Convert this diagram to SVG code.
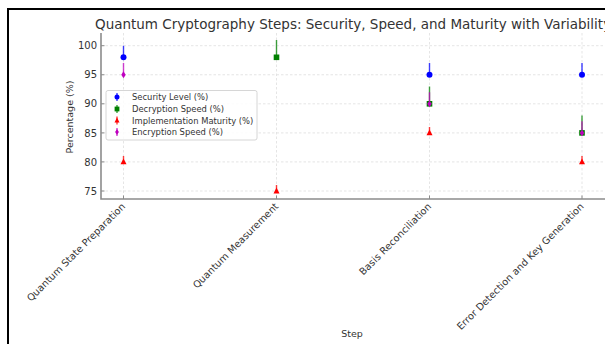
<svg xmlns="http://www.w3.org/2000/svg" width="605" height="344" viewBox="0 0 605 344">
<style>
text{font-family:"DejaVu Sans","Liberation Sans",sans-serif;fill:#333}
.grid{stroke:#dedede;stroke-width:0.8;stroke-dasharray:2.5,2;fill:none}
.spine{stroke:#8c8c8c;stroke-width:1.6;fill:none}
.tick{stroke:#8c8c8c;stroke-width:1;fill:none}
.yl{font-size:10px;text-anchor:end}
.xl{font-size:9.8px;text-anchor:end}
.lg{font-size:8.4px}
.eb{stroke-width:1.4;opacity:0.75}
</style>
<defs>
<circle id="mc" r="3" fill="#0000ff"/>
<rect id="ms" x="-2.8" y="-2.8" width="5.6" height="5.6" fill="#008000"/>
<path id="mt" d="M0,-3.4 L3,2.4 L-3,2.4 Z" fill="#ff0000"/>
<path id="md" d="M0,-3.4 L2.2,0 L0,3.4 L-2.2,0 Z" fill="#bf00bf"/>
<circle id="lc" r="2.5" fill="#0000ff"/>
<rect id="ls" x="-2.4" y="-2.4" width="4.8" height="4.8" fill="#008000"/>
<path id="lt" d="M0,-2.9 L2.5,2 L-2.5,2 Z" fill="#ff0000"/>
<path id="ld" d="M0,-2.9 L1.9,0 L0,2.9 L-1.9,0 Z" fill="#bf00bf"/>
</defs>
<rect width="605" height="344" fill="#fff"/>
<path d="M8,345 V9 H606" fill="none" stroke="#000" stroke-width="2"/>
<text x="95" y="29" font-size="13.5px">Quantum Cryptography Steps: Security, Speed, and Maturity with Variability</text>
<g id="grid">
<path class="grid" d="M123.5,33V199M276.5,33V199M429.5,33V199M582,33V199"/>
<path class="grid" d="M101,45.7H605M101,74.75H605M101,103.8H605M101,132.9H605M101,161.9H605M101,191H605"/>
</g>
<g id="axes">
<path class="spine" d="M101,33V199.5M100.2,199H605"/>
<path class="tick" d="M101,45.7h3.5M101,74.75h3.5M101,103.8h3.5M101,132.9h3.5M101,161.9h3.5M101,191h3.5M123.5,199v-3.5M276.5,199v-3.5M429.5,199v-3.5M582,199v-3.5"/>
<text class="yl" x="97" y="49.3">100</text>
<text class="yl" x="97" y="78.3">95</text>
<text class="yl" x="97" y="107.4">90</text>
<text class="yl" x="97" y="136.5">85</text>
<text class="yl" x="97" y="165.5">80</text>
<text class="yl" x="97" y="194.6">75</text>
<text x="73" y="117" font-size="9.5px" text-anchor="middle" transform="rotate(-90 73 117)">Percentage (%)</text>
<text class="xl" transform="translate(126,207) rotate(-45)">Quantum State Preparation</text>
<text class="xl" transform="translate(279,207) rotate(-45)">Quantum Measurement</text>
<text class="xl" transform="translate(432,207) rotate(-45)">Basis Reconciliation</text>
<text class="xl" transform="translate(584.5,207) rotate(-45)">Error Detection and Key Generation</text>
<text x="352" y="337" font-size="9.5px" text-anchor="middle">Step</text>
</g>
<g id="connectors">
<path class="eb" stroke="#0000ff" d="M123.5,57.3V45.7M429.5,74.75V63.1M582,74.75V63.1"/>
<path class="eb" stroke="#008000" d="M276.5,57.3V39.9M429.5,103.8V86.4M582,132.9V115.4"/>
<path class="eb" stroke="#ff0000" d="M123.5,161.9V156.1M276.5,191V185.1M429.5,132.9V127M582,161.9V156.1"/>
<path class="eb" stroke="#bf00bf" d="M123.5,74.75V63.1M429.5,103.8V92.2M582,132.9V121.2"/>
</g>
<g id="security">
<use href="#mc" x="123.5" y="57.3"/><use href="#mc" x="429.5" y="74.75"/><use href="#mc" x="582" y="74.75"/>
</g>
<g id="decryption">
<use href="#ms" x="276.5" y="57.3"/><use href="#ms" x="429.5" y="103.8"/><use href="#ms" x="582" y="132.9"/>
</g>
<g id="implementation">
<use href="#mt" x="123.5" y="161.9"/><use href="#mt" x="276.5" y="191"/><use href="#mt" x="429.5" y="132.9"/><use href="#mt" x="582" y="161.9"/>
</g>
<g id="encryption">
<use href="#md" x="123.5" y="74.75"/><use href="#md" x="429.5" y="103.8"/><use href="#md" x="582" y="132.9"/>
</g>
<g id="legend">
<rect x="106" y="90.5" width="151" height="49.5" rx="2" fill="#fff" fill-opacity="0.85" stroke="#cccccc" stroke-width="0.8"/>
<path class="eb" stroke="#0000ff" d="M117,93v8"/><use href="#lc" x="117" y="97"/>
<path class="eb" stroke="#008000" d="M117,105v8"/><use href="#ls" x="117" y="109"/>
<path class="eb" stroke="#ff0000" d="M117,116.5v8"/><use href="#lt" x="117" y="120.5"/>
<path class="eb" stroke="#bf00bf" d="M117,128v8"/><use href="#ld" x="117" y="132"/>
<text class="lg" x="132" y="100">Security Level (%)</text>
<text class="lg" x="132" y="111.8">Decryption Speed (%)</text>
<text class="lg" x="132" y="123.5">Implementation Maturity (%)</text>
<text class="lg" x="132" y="135.2">Encryption Speed (%)</text>
</g>
</svg>
